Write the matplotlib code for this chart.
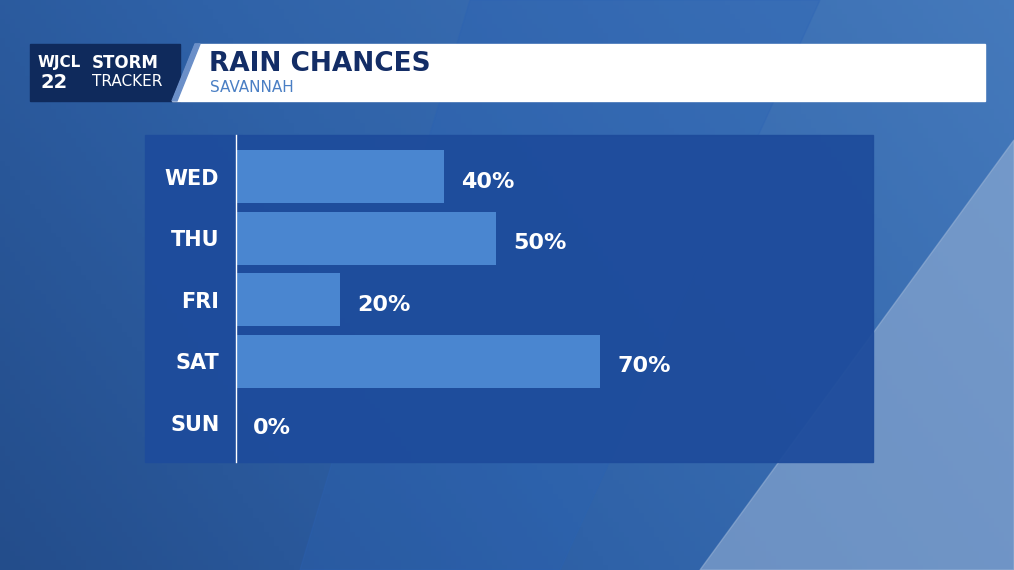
import numpy as np
import matplotlib.pyplot as plt
from matplotlib.patches import Rectangle, Polygon
from matplotlib.colors import LinearSegmentedColormap

days = ['WED', 'THU', 'FRI', 'SAT', 'SUN']
chances = [40, 50, 20, 70, 0]
title = 'RAIN CHANCES'
subtitle = 'SAVANNAH'

W, H = 1014, 570
fig = plt.figure(figsize=(W / 100, H / 100), dpi=100)


def px(x0, y0, x1, y1):
    # figure fraction rect from pixel box (top-left origin)
    return [x0 / W, 1 - y1 / H, (x1 - x0) / W, (y1 - y0) / H]


# background gradient
bg = fig.add_axes([0, 0, 1, 1])
bg.set_axis_off()
cmap = LinearSegmentedColormap.from_list('bgc', ['#1c3f78', '#2f62a8', '#4a7fc0'])
yy, xx = np.mgrid[0:1:120j, 0:1:200j]
grad = 0.2 + 0.5 * xx + 0.2 * (1 - yy)
bg.imshow(grad, cmap=cmap, vmin=0, vmax=1, extent=[0, W, H, 0], aspect='auto')
bg.add_patch(Polygon([[700, 570], [1014, 140], [1014, 570]], color='#9db6d8', alpha=0.55))
bg.add_patch(Polygon([[470, 0], [820, 0], [560, 570], [300, 570]], color='#2a62b5', alpha=0.3))
bg.set_xlim(0, W)
bg.set_ylim(H, 0)

# header
bg.add_patch(Rectangle((30, 44), 150, 57, color='#0f2a5c'))
bg.add_patch(Polygon([[195, 44], [985, 44], [985, 101], [172, 101]], color='white'))
bg.add_patch(Polygon([[172, 101], [195, 44], [200, 44], [177, 101]], color='#6b8fc8'))
bg.text(38, 63, 'WJCL', color='white', fontsize=11, fontweight='bold', va='center')
bg.text(40, 83, '22', color='white', fontsize=14, fontweight='bold', va='center')
bg.text(92, 63, 'STORM', color='white', fontsize=12, fontweight='bold', va='center')
bg.text(92, 82, 'TRACKER', color='white', fontsize=11, va='center')
bg.text(209, 64, title, color='#132d66', fontsize=19, fontweight='bold', va='center')
bg.text(210, 88, subtitle, color='#4a7fc4', fontsize=11, va='center')

# chart panel
bg.add_patch(Rectangle((145, 135), 728, 327, color='#1e4c9c', alpha=0.95))

ax = fig.add_axes(px(236, 135, 873, 462))
ax.patch.set_alpha(0)
pos = np.arange(len(days))
ax.barh(pos, chances, height=0.86, color='#4a86d0')
ax.set_xlim(0, 122.5)
ax.set_ylim(4.64, -0.68)
for p, v in zip(pos, chances):
    ax.text(v + 3.3, p + 0.08, f'{v}%', color='white', fontsize=16,
            fontweight='bold', va='center')
ax.set_yticks(pos)
ax.set_yticklabels(days, color='white', fontsize=15, fontweight='bold')
ax.tick_params(axis='y', length=0, pad=12)
ax.set_xticks([])
for s in ['top', 'right', 'bottom']:
    ax.spines[s].set_visible(False)
ax.spines['left'].set_color('white')
ax.spines['left'].set_linewidth(1)

fig.savefig('out.png', dpi=100)
